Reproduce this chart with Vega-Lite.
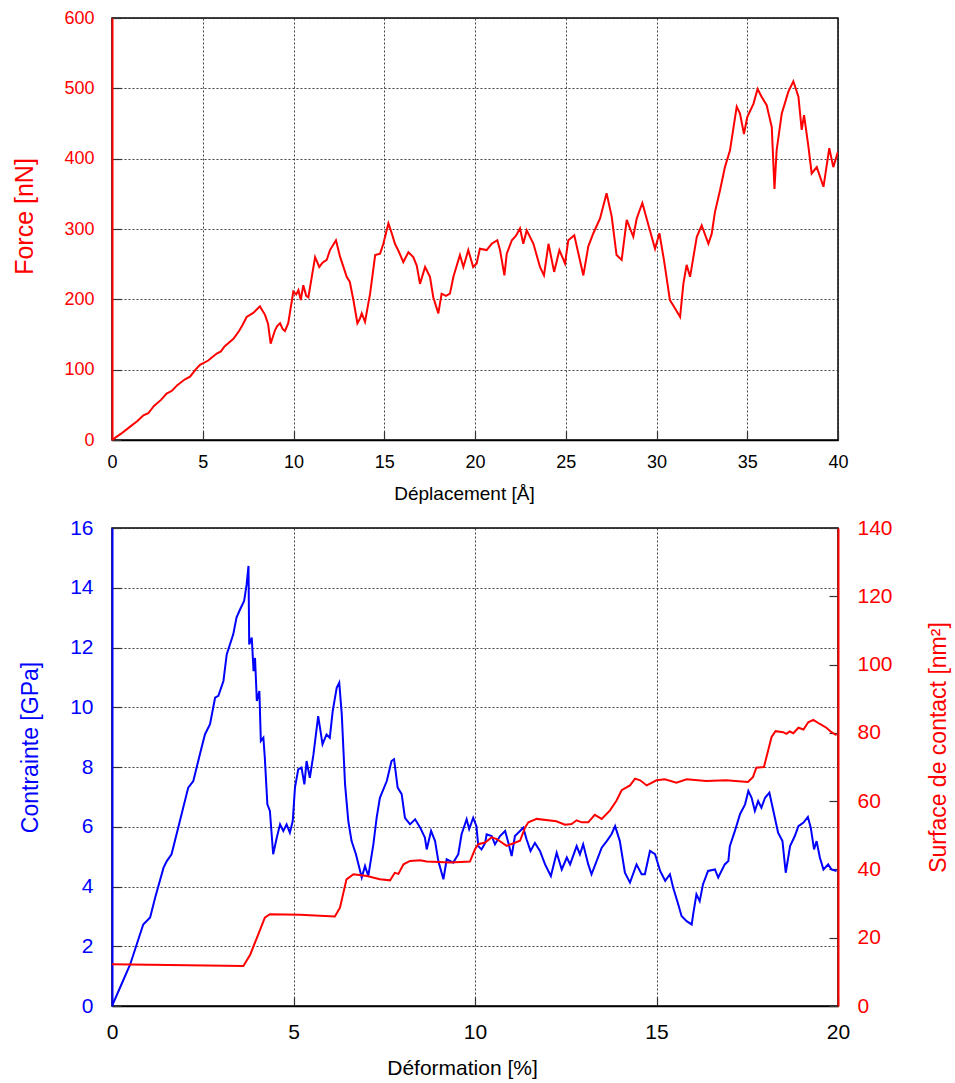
{
  "$schema": "https://vega.github.io/schema/vega-lite/v6.json",
  "background": "white",
  "padding": {"left": 12, "top": 8, "right": 5, "bottom": 5},
  "spacing": 12,
  "config": {
    "font": "Liberation Sans",
    "view": {"stroke": "black", "strokeWidth": 1.5},
    "axis": {
      "labelFont": "Liberation Sans",
      "titleFont": "Liberation Sans",
      "titleFontWeight": "normal",
      "labelColor": "black",
      "titleColor": "black",
      "gridColor": "#222222",
      "gridDash": [2, 2],
      "gridOpacity": 0.85,
      "gridWidth": 1,
      "ticks": true,
      "tickSize": -9,
      "tickColor": "#333333",
      "tickWidth": 1.2,
      "domainColor": "black",
      "domainWidth": 1.5,
      "labelFlush": false,
      "labelOverlap": false
    }
  },
  "datasets": {
    "force": [
      {"X":0,"F":0},{"X":0.5,"F":9},{"X":1.0,"F":19},{"X":1.4,"F":27},{"X":1.73,"F":35},{"X":2.0,"F":38},{"X":2.3,"F":48},{"X":2.7,"F":57},{"X":3.01,"F":66},{"X":3.3,"F":70},{"X":3.6,"F":78},{"X":4.0,"F":86},{"X":4.3,"F":90},{"X":4.6,"F":100},{"X":4.85,"F":107},{"X":5.3,"F":113},{"X":5.77,"F":123},{"X":6.0,"F":126},{"X":6.2,"F":133},{"X":6.69,"F":144},{"X":7.0,"F":155},{"X":7.2,"F":164},{"X":7.42,"F":175},{"X":7.8,"F":181},{"X":8.15,"F":190},{"X":8.43,"F":178},{"X":8.6,"F":165},{"X":8.74,"F":137},{"X":8.98,"F":156},{"X":9.1,"F":162},{"X":9.26,"F":166},{"X":9.4,"F":158},{"X":9.53,"F":155},{"X":9.71,"F":166},{"X":9.99,"F":211},{"X":10.15,"F":207},{"X":10.27,"F":213},{"X":10.4,"F":199},{"X":10.54,"F":220},{"X":10.7,"F":205},{"X":10.82,"F":203},{"X":11.19,"F":260},{"X":11.42,"F":246},{"X":11.6,"F":252},{"X":11.83,"F":256},{"X":12.01,"F":270},{"X":12.34,"F":284},{"X":12.56,"F":261},{"X":12.93,"F":232},{"X":13.1,"F":225},{"X":13.3,"F":199},{"X":13.52,"F":166},{"X":13.65,"F":172},{"X":13.76,"F":180},{"X":13.94,"F":168},{"X":14.22,"F":208},{"X":14.5,"F":263},{"X":14.77,"F":265},{"X":14.95,"F":279},{"X":15.23,"F":308},{"X":15.4,"F":295},{"X":15.59,"F":279},{"X":15.8,"F":268},{"X":16.05,"F":253},{"X":16.33,"F":267},{"X":16.6,"F":260},{"X":16.79,"F":248},{"X":16.97,"F":222},{"X":17.25,"F":246},{"X":17.52,"F":232},{"X":17.7,"F":203},{"X":17.98,"F":180},{"X":18.16,"F":208},{"X":18.4,"F":205},{"X":18.62,"F":208},{"X":18.81,"F":232},{"X":19.17,"F":263},{"X":19.36,"F":246},{"X":19.63,"F":270},{"X":19.9,"F":246},{"X":20.09,"F":251},{"X":20.27,"F":272},{"X":20.64,"F":270},{"X":20.92,"F":279},{"X":21.23,"F":284},{"X":21.38,"F":270},{"X":21.62,"F":234},{"X":21.75,"F":265},{"X":22.03,"F":284},{"X":22.25,"F":290},{"X":22.48,"F":301},{"X":22.66,"F":279},{"X":22.85,"F":298},{"X":23.22,"F":279},{"X":23.58,"F":246},{"X":23.8,"F":234},{"X":24.05,"F":279},{"X":24.36,"F":239},{"X":24.65,"F":270},{"X":24.96,"F":251},{"X":25.14,"F":284},{"X":25.47,"F":291},{"X":25.97,"F":234},{"X":26.24,"F":275},{"X":26.52,"F":294},{"X":26.89,"F":315},{"X":27.25,"F":351},{"X":27.53,"F":318},{"X":27.8,"F":263},{"X":28.08,"F":256},{"X":28.36,"F":313},{"X":28.72,"F":289},{"X":28.91,"F":315},{"X":29.22,"F":337},{"X":29.55,"F":306},{"X":29.92,"F":272},{"X":30.16,"F":294},{"X":30.41,"F":256},{"X":30.74,"F":199},{"X":31.0,"F":188},{"X":31.3,"F":175},{"X":31.48,"F":222},{"X":31.66,"F":249},{"X":31.85,"F":232},{"X":32.22,"F":289},{"X":32.49,"F":305},{"X":32.86,"F":279},{"X":33.04,"F":293},{"X":33.22,"F":324},{"X":33.5,"F":355},{"X":33.77,"F":388},{"X":34.05,"F":412},{"X":34.42,"F":474},{"X":34.6,"F":464},{"X":34.82,"F":435},{"X":35.0,"F":459},{"X":35.34,"F":478},{"X":35.57,"F":499},{"X":35.79,"F":488},{"X":36.07,"F":476},{"X":36.35,"F":445},{"X":36.5,"F":357},{"X":36.62,"F":412},{"X":36.9,"F":464},{"X":37.26,"F":495},{"X":37.54,"F":510},{"X":37.82,"F":488},{"X":38.0,"F":441},{"X":38.13,"F":462},{"X":38.37,"F":417},{"X":38.55,"F":379},{"X":38.83,"F":388},{"X":39.2,"F":360},{"X":39.52,"F":415},{"X":39.74,"F":388},{"X":40.0,"F":410}
    ],
    "contrainte": [
      {"D":0,"C":0},{"D":0.22,"C":0.61},{"D":0.5,"C":1.39},{"D":0.68,"C":2.06},{"D":0.86,"C":2.73},{"D":1.05,"C":2.96},{"D":1.19,"C":3.63},{"D":1.42,"C":4.63},{"D":1.51,"C":4.85},{"D":1.64,"C":5.08},{"D":1.87,"C":6.19},{"D":2.1,"C":7.31},{"D":2.24,"C":7.53},{"D":2.42,"C":8.42},{"D":2.56,"C":9.09},{"D":2.7,"C":9.43},{"D":2.84,"C":10.32},{"D":2.93,"C":10.38},{"D":3.07,"C":10.88},{"D":3.16,"C":11.77},{"D":3.34,"C":12.44},{"D":3.43,"C":13.0},{"D":3.53,"C":13.28},{"D":3.64,"C":13.56},{"D":3.71,"C":14.12},{"D":3.76,"C":14.73},{"D":3.78,"C":12.1},{"D":3.85,"C":12.33},{"D":3.9,"C":11.21},{"D":3.94,"C":11.65},{"D":3.99,"C":10.21},{"D":4.06,"C":10.54},{"D":4.1,"C":8.87},{"D":4.17,"C":8.98},{"D":4.21,"C":8.31},{"D":4.28,"C":6.75},{"D":4.35,"C":6.53},{"D":4.44,"C":5.08},{"D":4.54,"C":5.64},{"D":4.63,"C":6.08},{"D":4.72,"C":5.86},{"D":4.81,"C":6.08},{"D":4.9,"C":5.8},{"D":4.98,"C":6.2},{"D":5.04,"C":7.31},{"D":5.13,"C":7.92},{"D":5.22,"C":7.98},{"D":5.3,"C":7.42},{"D":5.36,"C":8.2},{"D":5.45,"C":7.64},{"D":5.55,"C":8.42},{"D":5.68,"C":9.7},{"D":5.8,"C":8.76},{"D":5.91,"C":9.09},{"D":6.0,"C":8.98},{"D":6.08,"C":9.87},{"D":6.19,"C":10.65},{"D":6.26,"C":10.82},{"D":6.33,"C":9.76},{"D":6.42,"C":7.42},{"D":6.51,"C":6.19},{"D":6.6,"C":5.52},{"D":6.72,"C":5.08},{"D":6.88,"C":4.3},{"D":6.97,"C":4.69},{"D":7.06,"C":4.35},{"D":7.2,"C":5.41},{"D":7.29,"C":6.3},{"D":7.38,"C":6.97},{"D":7.57,"C":7.53},{"D":7.7,"C":8.2},{"D":7.77,"C":8.26},{"D":7.87,"C":7.31},{"D":7.98,"C":7.09},{"D":8.07,"C":6.3},{"D":8.21,"C":6.08},{"D":8.35,"C":6.25},{"D":8.49,"C":5.97},{"D":8.62,"C":5.64},{"D":8.67,"C":5.24},{"D":8.79,"C":5.86},{"D":8.9,"C":5.52},{"D":8.99,"C":4.85},{"D":9.13,"C":4.24},{"D":9.22,"C":4.91},{"D":9.4,"C":4.8},{"D":9.54,"C":5.08},{"D":9.63,"C":5.75},{"D":9.77,"C":6.25},{"D":9.84,"C":5.92},{"D":9.95,"C":6.3},{"D":10.04,"C":6.02},{"D":10.09,"C":5.35},{"D":10.18,"C":5.24},{"D":10.28,"C":5.46},{"D":10.32,"C":5.75},{"D":10.46,"C":5.69},{"D":10.55,"C":5.41},{"D":10.69,"C":5.69},{"D":10.83,"C":5.86},{"D":10.92,"C":5.46},{"D":11.01,"C":5.02},{"D":11.1,"C":5.69},{"D":11.24,"C":5.86},{"D":11.33,"C":5.97},{"D":11.42,"C":5.58},{"D":11.53,"C":5.19},{"D":11.65,"C":5.46},{"D":11.79,"C":5.19},{"D":11.93,"C":4.74},{"D":12.09,"C":4.35},{"D":12.25,"C":5.13},{"D":12.39,"C":4.57},{"D":12.53,"C":4.97},{"D":12.62,"C":4.74},{"D":12.8,"C":5.35},{"D":12.89,"C":5.08},{"D":12.98,"C":5.41},{"D":13.12,"C":4.74},{"D":13.21,"C":4.41},{"D":13.35,"C":4.85},{"D":13.49,"C":5.3},{"D":13.63,"C":5.52},{"D":13.76,"C":5.75},{"D":13.86,"C":6.02},{"D":13.99,"C":5.52},{"D":14.13,"C":4.46},{"D":14.27,"C":4.13},{"D":14.45,"C":4.74},{"D":14.59,"C":4.41},{"D":14.68,"C":4.41},{"D":14.82,"C":5.19},{"D":14.96,"C":5.08},{"D":15.1,"C":4.52},{"D":15.24,"C":4.19},{"D":15.37,"C":4.41},{"D":15.46,"C":3.96},{"D":15.6,"C":3.4},{"D":15.69,"C":3.01},{"D":15.83,"C":2.84},{"D":15.97,"C":2.73},{"D":16.01,"C":3.07},{"D":16.1,"C":3.74},{"D":16.19,"C":3.51},{"D":16.28,"C":4.07},{"D":16.42,"C":4.52},{"D":16.61,"C":4.57},{"D":16.7,"C":4.3},{"D":16.88,"C":4.74},{"D":16.98,"C":4.85},{"D":17.02,"C":5.35},{"D":17.16,"C":5.86},{"D":17.3,"C":6.42},{"D":17.44,"C":6.75},{"D":17.53,"C":7.2},{"D":17.62,"C":6.97},{"D":17.71,"C":6.53},{"D":17.8,"C":6.86},{"D":17.89,"C":6.64},{"D":17.99,"C":6.97},{"D":18.11,"C":7.14},{"D":18.22,"C":6.53},{"D":18.35,"C":5.8},{"D":18.47,"C":5.52},{"D":18.56,"C":4.46},{"D":18.68,"C":5.35},{"D":18.81,"C":5.69},{"D":18.91,"C":6.02},{"D":19.05,"C":6.14},{"D":19.17,"C":6.33},{"D":19.25,"C":5.97},{"D":19.34,"C":5.24},{"D":19.41,"C":5.52},{"D":19.5,"C":4.97},{"D":19.6,"C":4.57},{"D":19.73,"C":4.74},{"D":19.82,"C":4.57},{"D":19.96,"C":4.52}
    ],
    "surface": [
      {"D":0,"S":12.2},{"D":3.62,"S":11.7},{"D":3.81,"S":15.1},{"D":4.03,"S":21.0},{"D":4.21,"S":25.9},{"D":4.35,"S":26.9},{"D":5.18,"S":26.7},{"D":6.14,"S":26.2},{"D":6.28,"S":28.8},{"D":6.46,"S":37.1},{"D":6.65,"S":38.6},{"D":7.02,"S":38.1},{"D":7.38,"S":37.1},{"D":7.66,"S":36.8},{"D":7.79,"S":39.0},{"D":7.89,"S":38.7},{"D":8.03,"S":41.5},{"D":8.21,"S":42.5},{"D":8.49,"S":42.7},{"D":8.67,"S":42.3},{"D":9.31,"S":42.0},{"D":9.86,"S":42.3},{"D":10.0,"S":45.9},{"D":10.09,"S":47.4},{"D":10.28,"S":47.9},{"D":10.46,"S":49.4},{"D":10.6,"S":48.9},{"D":10.87,"S":46.9},{"D":11.24,"S":48.4},{"D":11.38,"S":52.3},{"D":11.47,"S":53.8},{"D":11.7,"S":54.8},{"D":12.24,"S":54.1},{"D":12.48,"S":53.1},{"D":12.66,"S":53.3},{"D":12.8,"S":54.4},{"D":12.94,"S":53.8},{"D":13.12,"S":53.8},{"D":13.3,"S":56.0},{"D":13.49,"S":54.8},{"D":13.72,"S":57.3},{"D":13.9,"S":60.2},{"D":14.04,"S":63.2},{"D":14.27,"S":64.6},{"D":14.41,"S":66.6},{"D":14.55,"S":66.1},{"D":14.73,"S":64.6},{"D":15.0,"S":66.1},{"D":15.23,"S":66.4},{"D":15.55,"S":65.4},{"D":15.83,"S":66.4},{"D":16.37,"S":65.9},{"D":16.92,"S":66.1},{"D":17.52,"S":65.6},{"D":17.66,"S":67.1},{"D":17.75,"S":69.8},{"D":17.96,"S":70.0},{"D":18.17,"S":78.8},{"D":18.28,"S":80.5},{"D":18.49,"S":80.2},{"D":18.58,"S":79.7},{"D":18.67,"S":80.4},{"D":18.77,"S":79.9},{"D":18.91,"S":81.5},{"D":19.05,"S":81.0},{"D":19.18,"S":83.1},{"D":19.32,"S":83.8},{"D":19.5,"S":82.6},{"D":19.68,"S":81.5},{"D":19.82,"S":80.2},{"D":19.96,"S":79.3}
    ]
  },
  "vconcat": [
    {
      "width": 726,
      "height": 422,
      "data": {"name": "force"},
      "mark": {"type": "line", "color": "#ff0000", "strokeWidth": 2, "clip": true},
      "encoding": {
        "x": {
          "field": "X", "type": "quantitative",
          "scale": {"domain": [0, 40], "nice": false, "zero": false},
          "axis": {
            "title": "Déplacement [Å]", "values": [0,5,10,15,20,25,30,35,40],
            "labelFontSize": 18, "titleFontSize": 19, "labelPadding": 22, "titlePadding": 13,
            "titleX": 352
          }
        },
        "y": {
          "field": "F", "type": "quantitative",
          "scale": {"domain": [0, 600], "nice": false},
          "axis": {
            "title": "Force [nN]", "values": [0,100,200,300,400,500,600],
            "labelFontSize": 18, "titleFontSize": 25, "labelPadding": 27, "titlePadding": 26,
            "labelColor": "#ff0000", "titleColor": "#ff0000", "domainColor": "#ff0000", "domainWidth": 2,
            "titleY": 198
          }
        }
      }
    },
    {
      "width": 726,
      "height": 478,
      "layer": [
        {
          "data": {"name": "contrainte"},
          "mark": {"type": "line", "color": "#0000ff", "strokeWidth": 2, "clip": true},
          "encoding": {
            "x": {
              "field": "D", "type": "quantitative",
              "scale": {"domain": [0, 20], "nice": false, "zero": false},
              "axis": {
                "title": "Déformation [%]", "values": [0,5,10,15,20],
                "labelFontSize": 21, "titleFontSize": 21, "labelPadding": 24, "titlePadding": 15,
                "titleX": 350
              }
            },
            "y": {
              "field": "C", "type": "quantitative",
              "scale": {"domain": [0, 16], "nice": false},
              "axis": {
                "title": "Contrainte [GPa]", "values": [0,2,4,6,8,10,12,14,16],
                "labelFontSize": 21, "titleFontSize": 23, "labelPadding": 28, "titlePadding": 27,
                "labelColor": "#0000ff", "titleColor": "#0000ff", "domainColor": "#0000ff", "domainWidth": 2,
                "titleY": 219
              }
            }
          }
        },
        {
          "data": {"name": "surface"},
          "mark": {"type": "line", "color": "#ff0000", "strokeWidth": 2, "clip": true},
          "encoding": {
            "x": {"field": "D", "type": "quantitative"},
            "y": {
              "field": "S", "type": "quantitative",
              "scale": {"domain": [0, 140], "nice": false},
              "axis": {
                "orient": "right", "title": "Surface de contact [nm²]", "values": [0,20,40,60,80,100,120,140],
                "grid": false, "labelFontSize": 21, "titleFontSize": 23, "labelPadding": 28, "titlePadding": 58,
                "titleAngle": 270,
                "labelColor": "#ff0000", "titleColor": "#ff0000", "domainColor": "#ff0000", "domainWidth": 2,
                "titleY": 219
              }
            }
          }
        }
      ],
      "resolve": {"scale": {"y": "independent"}}
    }
  ]
}
